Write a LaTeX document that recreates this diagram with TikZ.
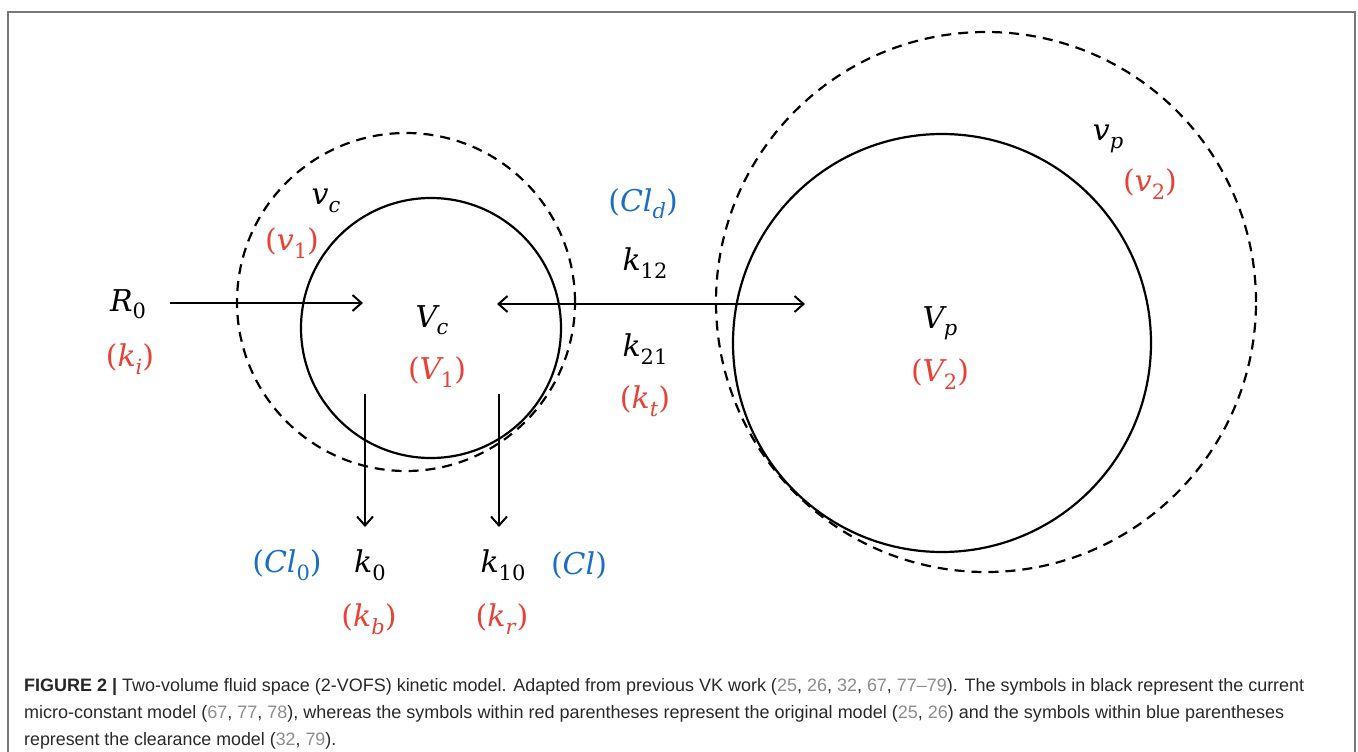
\documentclass[tikz,border=0pt]{standalone}
\usepackage{fontspec}
\newfontfamily\capfont{Liberation Sans}
\newfontfamily\labfont{DejaVu Serif}
\usepackage{graphicx}
\usetikzlibrary{arrows.meta}
\definecolor{lred}{RGB}{232,66,56}
\definecolor{lblue}{RGB}{28,110,196}
\definecolor{captxt}{RGB}{40,40,40}
\definecolor{capnum}{RGB}{140,140,140}
\definecolor{framec}{RGB}{120,120,120}
\newcommand{\cn}[1]{\textcolor{capnum}{#1}}
\newcommand{\ms}[3][0pt]{\textit{#2}\kern#1\raisebox{-0.25em}{\fontsize{21}{24}\selectfont #3}}
\tikzset{
  lab/.style={inner sep=0pt, font=\labfont\fontsize{30}{34}\selectfont},
  redlab/.style={lab, text=lred},
  bluelab/.style={lab, text=lblue},
  solidcirc/.style={circle, draw, line width=2.2pt, inner sep=0pt},
  dashcirc/.style={circle, draw, line width=2.2pt, inner sep=0pt, dash pattern=on 10pt off 7pt},
  flow/.style={line width=2pt, -{Straight Barb[length=9pt,width=16pt,line width=2pt]}},
  bflow/.style={line width=2pt, {Straight Barb[length=9pt,width=16pt,line width=2pt]}-{Straight Barb[length=9pt,width=16pt,line width=2pt]}},
  capline/.style={inner sep=0pt, anchor=base west, text=captxt, font=\capfont\fontsize{18}{21}\selectfont}
}
\begin{document}
\begin{tikzpicture}[x=1pt,y=-1pt]
\useasboundingbox (0,0) rectangle (1358,752);
% frame
\draw[framec, line width=1.8pt] (8,752) -- (8,12) -- (1355,12) -- (1355,752);
% circles
\node[dashcirc, minimum size=338pt] (cdash) at (406,302) {};
\node[solidcirc, minimum size=260pt] (csol) at (431,328) {};
\node[dashcirc, minimum size=540pt] (pdash) at (986,302) {};
\node[solidcirc, minimum size=418pt] (psol) at (942,343) {};
% labels
\node[lab] (R0) at (128,304) {\ms{R}{0}};
\node[redlab] (ki) at (130,359) {(\ms{k}{\textit{i}})};
\node[lab] (vc) at (326,201) {\ms{v}{\textit{c}}};
\node[redlab] (v1) at (292,243) {(\ms{v}{1})};
\node[lab] (Vc) at (432,320) {\ms[-3pt]{V}{\textit{c}}};
\node[redlab] (V1) at (437,372) {(\ms[-3pt]{V}{1})};
\node[bluelab] (Cl0) at (287,565) {(\ms{Cl}{0})};
\node[lab] (k0) at (370,565) {\ms{k}{0}};
\node[lab] (k10) at (503,565) {\ms{k}{10}};
\node[bluelab] (Cl) at (579,565) {(\textit{Cl})};
\node[redlab] (kb) at (369,619) {(\ms{k}{\textit{b}})};
\node[redlab] (kr) at (502,619) {(\ms{k}{\textit{r}})};
\node[bluelab] (Cld) at (643,204) {(\ms{Cl}{\textit{d}})};
\node[lab] (k12) at (645,263) {\ms{k}{12}};
\node[lab] (k21) at (645,349) {\ms{k}{21}};
\node[redlab] (kt) at (645,401) {(\ms{k}{\textit{t}})};
\node[lab] (Vp) at (940,323) {\ms[-3pt]{V}{\textit{p}}};
\node[redlab] (V2) at (940,374) {(\ms[-3pt]{V}{2})};
\node[lab] (vp) at (1108,139) {\ms{v}{\textit{p}}};
\node[redlab] (v2) at (1150,184) {(\ms{v}{2})};
% arrow end points
\coordinate (a0) at (170,303);
\coordinate (a1) at (363,303);
\coordinate (b1) at (497,304);
\coordinate (b2) at (805,304);
\coordinate (d1s) at (365,394);
\coordinate (d1e) at (365,527);
\coordinate (d2s) at (499,394);
\coordinate (d2e) at (499,527);
% arrows
\draw[flow] (a0) -- (a1);
\draw[bflow] (b1) -- (b2);
\draw[flow] (d1s) -- (d1e);
\draw[flow] (d2s) -- (d2e);
% caption
\node[capline] (cap1) at (24,691) {\resizebox{1280pt}{\height}{\textbf{\color{black!85}FIGURE 2 |} Two-volume fluid space (2-VOFS) kinetic model. Adapted from previous VK work (\cn{25}, \cn{26}, \cn{32}, \cn{67}, \cn{77–79}). The symbols in black represent the current}};
\node[capline] (cap2) at (24,718) {\resizebox{1260pt}{\height}{micro-constant model (\cn{67}, \cn{77}, \cn{78}), whereas the symbols within red parentheses represent the original model (\cn{25}, \cn{26}) and the symbols within blue parentheses}};
\node[capline] (cap3) at (24,745) {\resizebox{312pt}{\height}{represent the clearance model (\cn{32}, \cn{79}).}};
\end{tikzpicture}
\end{document}
